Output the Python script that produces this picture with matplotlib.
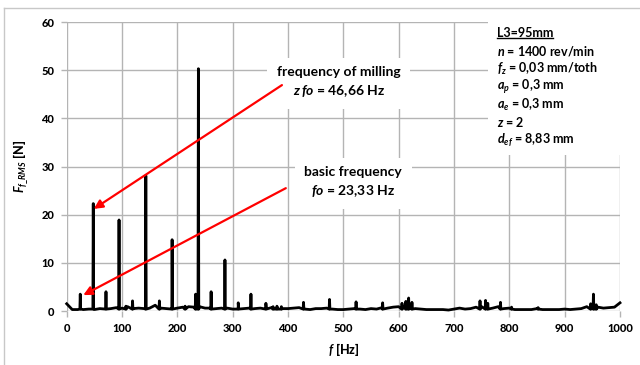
"""
Spectrum of the cutting force F_f_RMS, with the milling and basic frequencies marked
"""

import matplotlib
matplotlib.use("Agg")
import matplotlib.pyplot as plt
from matplotlib.lines import Line2D
from matplotlib.patches import Rectangle
import numpy as np

# background level of the spectrum, one value every 10 Hz (0 ... 1000 Hz)
base_hz = np.arange(0, 1001, 10)
base_amp = [
    1.5, 0.3, 0.3, 0.3, 0.4, 0.3, 0.5, 0.4, 0.5, 0.7,
    0.6, 0.9, 0.5, 0.6, 0.5, 0.6, 1.2, 0.6, 0.5, 0.6,
    0.6, 0.8, 0.9, 0.8, 0.9, 0.6, 0.6, 0.5, 0.6, 0.6,
    0.4, 0.9, 0.5, 0.6, 0.5, 0.6, 0.8, 0.7, 0.6, 0.5,
    0.5, 0.6, 0.7, 0.4, 0.3, 0.5, 0.5, 0.6, 0.4, 0.3,
    0.3, 0.4, 0.5, 0.4, 0.3, 0.5, 0.4, 0.7, 0.6, 0.8,
    0.9, 1.0, 0.7, 0.5, 0.4, 0.3, 0.3, 0.3, 0.3, 0.2,
    0.4, 0.6, 0.4, 0.5, 0.8, 0.9, 1.0, 0.6, 0.9, 0.5,
    0.6, 0.3, 0.3, 0.3, 0.3, 0.5, 0.3, 0.3, 0.3, 0.3,
    0.4, 0.3, 0.4, 0.5, 0.9, 1.2, 0.8, 0.6, 0.7, 0.8,
    1.7,
]

# spectral lines
peak_hz = [24.5, 48, 71, 94.6, 107, 119, 143, 167.5, 190.5, 214, 233, 238,
           261, 286, 310, 333, 360, 373, 380, 388, 428, 475, 523, 571,
           606, 613, 618, 624, 747, 757, 761, 784, 804, 852, 947, 952, 957]
peak_amp = [3.5, 22.3, 4.0, 18.9, 1.0, 2.1, 28.1, 2.1, 14.8, 1.0, 3.5, 50.3,
            4.0, 10.6, 1.7, 3.5, 1.6, 0.9, 1.0, 0.9, 1.8, 2.4, 1.9, 1.7,
            1.6, 2.0, 2.7, 1.8, 2.1, 2.2, 1.6, 1.8, 0.8, 0.7, 1.5, 3.5, 1.3]
peak_foot = 0.4

x_ticks = [0, 100, 200, 300, 400, 500, 600, 700, 800, 900, 1000]
y_ticks = [0, 10, 20, 30, 40, 50, 60]

params = [
    r"$\mathit{n}$ = 1400 rev/min",
    r"$\mathit{f}_{\mathit{z}}$ = 0,03 mm/toth",
    r"$\mathit{a}_{\mathit{p}}$ = 0,3 mm",
    r"$\mathit{a}_{\mathit{e}}$ = 0,3 mm",
    r"$\mathit{z}$ = 2",
    r"$\mathit{d}_{\mathit{ef}}$ = 8,83 mm",
]
param_y = [53.9, 50.2, 46.5, 42.7, 39.2, 35.5]

plt.rcParams["font.family"] = ["Lato", "DejaVu Sans"]
plt.rcParams["font.weight"] = "bold"
plt.rcParams["mathtext.fontset"] = "custom"
plt.rcParams["mathtext.rm"] = "Lato:bold"
plt.rcParams["mathtext.it"] = "Lato:italic:bold"
plt.rcParams["mathtext.bf"] = "Lato:bold"

# merge background and spectral lines into one trace
fx = list(base_hz)
fy = list(base_amp)
for f, a in zip(peak_hz, peak_amp):
    fx += [f - 0.7, f, f + 0.7]
    fy += [peak_foot, a, peak_foot]
order = np.argsort(fx, kind="stable")
fx = np.array(fx)[order]
fy = np.array(fy)[order]

fig = plt.figure(figsize=(6.4, 3.65), dpi=100)
ax = fig.add_axes([66.7 / 640, 1 - 311 / 365, (620 - 66.7) / 640, (311 - 22) / 365])

grid_c = "#b4b4b4"
ax.set_xlim(0, 1000)
ax.set_ylim(0, 60)
ax.set_xticks(x_ticks)
ax.set_yticks(y_ticks)
ax.set_xticklabels([str(v) for v in x_ticks], fontweight=900, fontsize=8)
ax.set_yticklabels([str(v) for v in y_ticks], fontweight=900, fontsize=8)
ax.grid(True, color=grid_c, lw=1.0, zorder=0)
ax.set_axisbelow(True)
for s in ax.spines.values():
    s.set_visible(False)
ax.tick_params(axis="both", length=4, width=1, color=grid_c)
ax.tick_params(axis="x", pad=5)
ax.tick_params(axis="y", pad=5)

ax.plot(fx, fy, color="black", lw=2.0, zorder=3, clip_on=False)

ax.set_xlabel(r"$\mathit{f}$ [Hz]", fontsize=9, fontweight=900, labelpad=5)
ax.set_ylabel(r"$\mathit{F}_{\mathit{f\_RMS}}$ [N]", fontsize=9, fontweight=900,
              labelpad=8)

# white panel behind the parameter list (hides the grid there)
ax.add_patch(Rectangle((761, 32.4), 260, 28.5, facecolor="white", edgecolor="none",
                       zorder=1, clip_on=False))
t_l3 = ax.text(777.7, 57.7, "L3=95mm", fontsize=9, fontweight="bold",
               ha="left", va="center", zorder=5)
for s, yy in zip(params, param_y):
    ax.text(777.7, yy, s, fontsize=9, fontweight="bold", ha="left", va="center", zorder=5)

box = dict(facecolor="white", edgecolor="none", pad=7)
ax.text(492, 47.4, "frequency of milling\n" + r"$\mathit{z}\,\mathit{fo}$ = 46,66 Hz",
        fontsize=10, fontweight="bold", ha="center", va="center", linespacing=1.45,
        bbox=box, zorder=4)
ax.text(518, 26.7, "basic frequency\n" + r"$\mathit{fo}$ = 23,33 Hz",
        fontsize=10, fontweight="bold", ha="center", va="center", linespacing=1.45,
        bbox=box, zorder=4)

arrow = dict(arrowstyle="-|>", color="red", lw=1.6, mutation_scale=13,
             shrinkA=0, shrinkB=0)
ax.annotate("", xy=(49, 21.2), xytext=(389, 46.9), arrowprops=arrow, zorder=6)
ax.annotate("", xy=(30, 3.3), xytext=(396, 25.5), arrowprops=arrow, zorder=6)

# outer frame (left and top edges)
fig.add_artist(Line2D([4 / 640, 4 / 640], [0, 1 - 8 / 365], color="#c8c8c8", lw=1))
fig.add_artist(Line2D([4 / 640, 1], [1 - 8 / 365, 1 - 8 / 365], color="#c8c8c8", lw=1))

# underline of the L3 line
fig.canvas.draw()
bb = t_l3.get_window_extent()
inv = fig.transFigure.inverted()
(x0, y0), (x1, _) = inv.transform([(bb.x0, bb.y0 + 1), (bb.x1, bb.y0 + 1)])
fig.add_artist(Line2D([x0, x1], [y0, y0], color="black", lw=1))

fig.savefig("out.png", dpi=100)
